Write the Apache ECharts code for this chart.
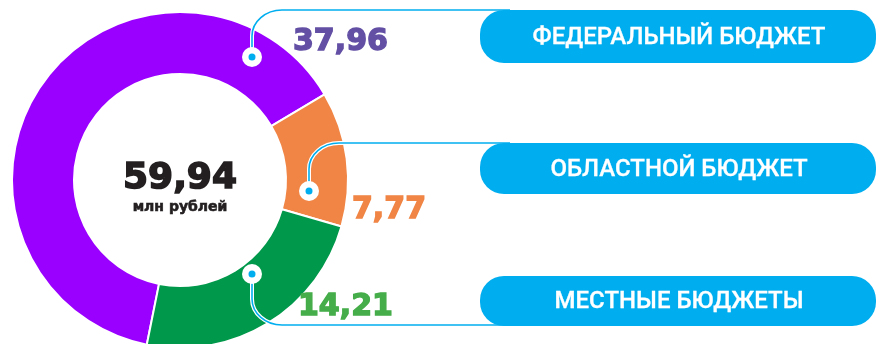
<!DOCTYPE html>
<html>
<head>
<meta charset="utf-8">
<script src="https://cdn.jsdelivr.net/npm/echarts@6/dist/echarts.min.js"></script>
<style>
  html, body { margin: 0; padding: 0; background: #fff; }
  #chart { width: 877px; height: 344px; }
</style>
</head>
<body>
<div id="chart"></div>
<script>
// Budget sources, million roubles
const categories = ['ФЕДЕРАЛЬНЫЙ БЮДЖЕТ', 'ОБЛАСТНОЙ БЮДЖЕТ', 'МЕСТНЫЕ БЮДЖЕТЫ'];
const values = [37.96, 7.77, 14.21];
const unitLabel = 'млн рублей';

const sliceColors = ['#9900ff', '#f08545', '#00984a'];
const valueColors = ['#6350a5', '#f08545', '#45ad49'];
const accent = '#00aeef';

const fmt = v => v.toFixed(2).replace('.', ',');
const total = values.reduce((a, b) => a + b, 0);

const chart = echarts.init(document.getElementById('chart'), null, { renderer: 'canvas' });

const center = [180, 180];
const radius = [106, 168];

// callout geometry: anchor dot inside the slice, the row it runs along, the pill, value text spot
const callouts = [
  { dot: [252, 57],  rowY: 10,  dir: -1, box: [480, 10, 53],  text: [293, 42] },
  { dot: [309, 191], rowY: 143, dir: -1, box: [480, 143, 51], text: [352, 210] },
  { dot: [252, 274], rowY: 325, dir: 1,  box: [480, 276, 50], text: [298, 307] }
];

const graphics = [];

// vertical stem from the dot, a rounded elbow, then a straight run to the pill
function connector(c, stroke, width, z) {
  const [dx, dy] = c.dot;
  const bendX = 30, bendY = 26;
  const yBend = c.rowY - c.dir * bendY;
  const k = 0.55;
  const style = { fill: null, stroke: stroke, lineWidth: width };
  return [
    { type: 'line', z: z, silent: true, shape: { x1: dx, y1: dy, x2: dx, y2: yBend }, style: style },
    { type: 'bezierCurve', z: z, silent: true,
      shape: {
        x1: dx, y1: yBend,
        cpx1: dx, cpy1: yBend + c.dir * bendY * k,
        cpx2: dx + bendX * (1 - k), cpy2: c.rowY,
        x2: dx + bendX, y2: c.rowY
      }, style: style },
    { type: 'line', z: z, silent: true, shape: { x1: dx + bendX, y1: c.rowY, x2: c.box[0] + 30, y2: c.rowY }, style: style }
  ];
}

callouts.forEach((c, i) => {
  const [dx, dy] = c.dot;
  graphics.push(...connector(c, '#ffffff', 4, 10));
  graphics.push(...connector(c, accent, 1.6, 11));
  graphics.push({
    type: 'circle', z: 12, silent: true,
    shape: { cx: dx, cy: dy, r: 10 },
    style: { fill: '#ffffff' }
  });
  graphics.push({
    type: 'circle', z: 13, silent: true,
    shape: { cx: dx, cy: dy, r: 3.5 },
    style: { fill: accent }
  });
  // category pill
  graphics.push({
    type: 'rect', z: 14, silent: true,
    shape: { x: c.box[0], y: c.box[1], width: 396, height: c.box[2], r: 24 },
    style: { fill: accent }
  });
  graphics.push({
    type: 'text', z: 15, silent: true,
    x: c.box[0] + 199, y: c.box[1] + c.box[2] / 2 + 1,
    style: {
      text: categories[i],
      fill: '#ffffff',
      stroke: '#ffffff',
      lineWidth: 0.3,
      font: '500 24px Roboto',
      align: 'center', verticalAlign: 'middle'
    }
  });
  // value next to the ring
  graphics.push({
    type: 'text', z: 15, silent: true,
    x: c.text[0], y: c.text[1],
    style: {
      text: fmt(values[i]),
      fill: valueColors[i],
      stroke: valueColors[i],
      lineWidth: 1.4,
      font: 'bold 30px "DejaVu Sans"',
      align: 'left', verticalAlign: 'middle'
    }
  });
});

// total in the hole
graphics.push({
  type: 'text', z: 15, silent: true,
  x: center[0], y: 179,
  style: {
    text: fmt(total),
    fill: '#231f20',
    stroke: '#231f20',
    lineWidth: 1.6,
    font: 'bold 36px "DejaVu Sans"',
    align: 'center', verticalAlign: 'middle'
  }
});
graphics.push({
  type: 'text', z: 15, silent: true,
  x: center[0], y: 207,
  style: {
    text: unitLabel,
    fill: '#231f20',
    stroke: '#231f20',
    lineWidth: 0.6,
    font: 'bold 14px "DejaVu Sans"',
    align: 'center', verticalAlign: 'middle'
  }
});

chart.setOption({
  animation: false,
  series: [{
    type: 'pie',
    center: center,
    radius: radius,
    startAngle: 258.6,
    clockwise: true,
    silent: true,
    label: { show: false },
    labelLine: { show: false },
    itemStyle: { borderColor: '#ffffff', borderWidth: 2 },
    data: categories.map((name, i) => ({
      name: name,
      value: values[i],
      itemStyle: { color: sliceColors[i] }
    }))
  }],
  graphic: graphics
});
</script>
</body>
</html>
